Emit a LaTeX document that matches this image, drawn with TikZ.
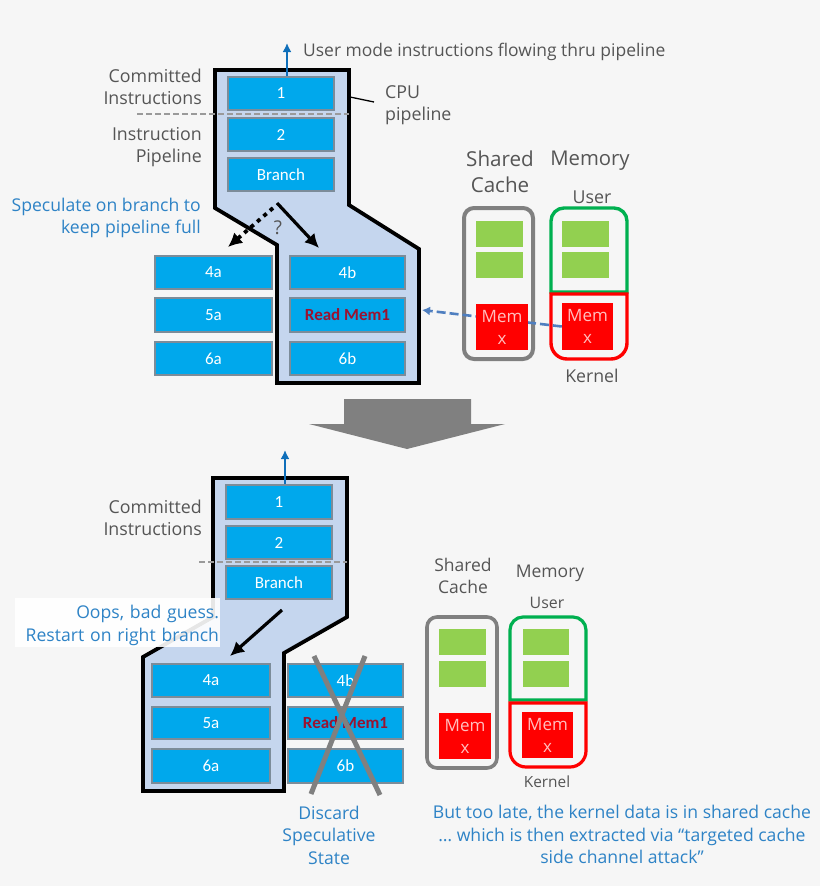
\documentclass[tikz,border=0pt]{standalone}
\usepackage{fontspec}
\setmainfont{Open Sans}
\newfontfamily\boxfont{Carlito}
\usetikzlibrary{arrows.meta,calc}
\definecolor{pagegray}{HTML}{F6F6F6}
\definecolor{pipeblue}{HTML}{C5D6EE}
\definecolor{stageblue}{HTML}{00A8EC}
\definecolor{stageedge}{HTML}{7C8C99}
\definecolor{talkblue}{HTML}{2E83C6}
\definecolor{textgray}{HTML}{555555}
\definecolor{flowblue}{HTML}{0F6FBA}
\definecolor{hitblue}{HTML}{4F7FC0}
\definecolor{memgreen}{HTML}{92D050}
\definecolor{userring}{HTML}{00B050}
\definecolor{wrongred}{HTML}{9B1230}
\definecolor{crossgray}{HTML}{808080}
\definecolor{splitgray}{HTML}{9A9A9A}
\tikzset{
	stage/.style={draw=stageedge, line width=1.2pt, fill=stageblue, text=white, inner sep=0pt,
		font=\boxfont\fontsize{17}{18}\selectfont},
	pipeline/.style={line width=3.8pt, draw=black, fill=pipeblue, line join=miter},
	graytext/.style={text=textgray, inner sep=0pt, align=right, font=\fontsize{17.8}{22}\selectfont},
	bluetext/.style={text=talkblue, inner sep=0pt, font=\fontsize{17.6}{22.4}\selectfont},
	greenblock/.style={fill=memgreen, inner sep=0pt},
	redblock/.style={fill=red, text=white!75!red, inner sep=0pt, align=center, font=\fontsize{17}{22}\selectfont},
	wide/.style={minimum width=#1pt},
	high/.style={minimum height=#1pt}
}
\begin{document}
\begin{tikzpicture}[x=1pt, y=-1pt]
	\fill [pagegray] (0, 0) rectangle (820, 886);

	\draw [pipeline] (215, 70) -- (349, 70) -- (349, 205) -- (419, 249) -- (419, 383) -- (277, 383) -- (277, 245) -- (215, 208) -- cycle;
	\node [stage, wide=106, high=33] (one) at (281, 93.5) {1};
	\node [stage, wide=106, high=33] (two) at (281, 134.5) {2};
	\node [stage, wide=106, high=33] (branch) at (281, 174.5) {Branch};
	\node [stage, wide=117, high=33] (foura) at (213.5, 272.5) {4a};
	\node [stage, wide=117, high=34] (fivea) at (213.5, 315) {5a};
	\node [stage, wide=117, high=33] (sixa) at (213.5, 358.5) {6a};
	\node [stage, wide=115, high=33] (fourb) at (347.5, 272.5) {4b};
	\node [stage, wide=115, high=34, text=wrongred] (readmem) at (347.5, 315) {\textbf{Read Mem1}};
	\node [stage, wide=115, high=33] (sixb) at (347.5, 358.5) {6b};

	\coordinate (flowtop) at (287, 43);
	\draw [flowblue, line width=2.4pt, -{Latex[length=9pt, width=9pt]}] (one.north -| flowtop) -- (flowtop);
	\node [graytext, anchor=west, font=\fontsize{17.45}{22}\selectfont] (flowtext) at (303, 52) {User mode instructions flowing thru pipeline};
	\node [graytext, anchor=east] (committed) at (202, 87) {Committed\\Instructions};
	\node [graytext, anchor=east] (instrpipe) at (202, 147) {Instruction\\Pipeline};
	\coordinate (splitl) at (137, 114);
	\coordinate (splitr) at (349, 114);
	\draw [splitgray, line width=1.3pt, dash pattern=on 6pt off 3pt] (splitl) -- (splitr);
	\coordinate (cpuedge) at (350, 97);
	\coordinate (cpuend) at (374, 102);
	\draw [black, line width=1.3pt] (cpuedge) -- (cpuend);
	\node [graytext, anchor=west, align=left] (cputext) at (385, 105) {CPU\\pipeline};
	\node [bluetext, anchor=east, align=right] (speculate) at (201, 218) {Speculate on branch to\\keep pipeline full};

	\coordinate (guessfrom) at (273, 208);
	\coordinate (guessa) at (228, 247);
	\coordinate (takefrom) at (277, 203);
	\coordinate (takeb) at (319, 248);
	\draw [black, line width=3.8pt, dash pattern=on 4pt off 4.5pt, -{Latex[length=14pt, width=14pt]}] (guessfrom) -- (guessa);
	\draw [black, line width=3.2pt, -{Latex[length=14pt, width=14pt]}] (takefrom) -- (takeb);
	\node [text=textgray, inner sep=0pt, font=\fontsize{19}{20}\selectfont] (qmark) at (278, 228) {?};

	\node [graytext, align=center, anchor=center, font=\fontsize{20.6}{26}\selectfont] (sharedtop) at (500, 171.5) {Shared\\Cache};
	\node [graytext, anchor=center, font=\fontsize{20.3}{22}\selectfont] (memorytop) at (590, 161) {Memory};
	\node [graytext, anchor=center, font=\fontsize{17.8}{20}\selectfont] (usertop) at (592, 197) {User};
	\node [graytext, anchor=center, font=\fontsize{17.7}{20}\selectfont] (kerneltop) at (592, 376) {Kernel};
	\draw [crossgray, line width=4pt, rounded corners=10pt] (464, 208) rectangle (533, 359);
	\draw [userring, line width=3.4pt] (551, 292) [rounded corners=13pt] -- (551, 208) -- (627, 208) [sharp corners] -- (627, 292) -- cycle;
	\draw [red, line width=3.4pt] (551, 294) [rounded corners=16pt] -- (551, 359) -- (627, 359) [sharp corners] -- (627, 294) -- cycle;
	\node [greenblock, wide=47, high=26] (cachegreena) at (499.5, 234) {};
	\node [greenblock, wide=47, high=26] (cachegreenb) at (499.5, 265) {};
	\node [greenblock, wide=47, high=26] (usergreena) at (585.5, 234) {};
	\node [greenblock, wide=47, high=26] (usergreenb) at (585.5, 265) {};
	\node [redblock, wide=51, high=47] (kernelmem) at (587.5, 326.5) {Mem\\x};
	\coordinate (hitend) at (422, 310);
	\draw [hitblue, line width=2.6pt, dash pattern=on 9pt off 4pt, -{Latex[length=8pt, width=9pt]}] (kernelmem.west) -- (hitend);
	\node [redblock, wide=52, high=46] (cachemem) at (502, 327) {Mem\\x};

	\fill [crossgray] (344, 399) -- (471, 399) -- (471, 424) -- (505, 424) -- (407, 449) -- (309, 424) -- (344, 424) -- cycle;

	\draw [pipeline] (213, 478) -- (347, 478) -- (347, 617) -- (284, 653) -- (284, 791) -- (143, 791) -- (143, 657) -- (213, 617) -- cycle;
	\node [stage, wide=106, high=34] (onelow) at (279, 502) {1};
	\node [stage, wide=106, high=33] (twolow) at (279, 542.5) {2};
	\node [stage, wide=106, high=33] (branchlow) at (279, 582.5) {Branch};
	\node [stage, wide=118, high=33] (fouralow) at (211, 680.5) {4a};
	\node [stage, wide=118, high=32] (fivealow) at (211, 723) {5a};
	\node [stage, wide=118, high=34] (sixalow) at (211, 766) {6a};
	\node [stage, wide=115, high=33] (fourblow) at (345.5, 680.5) {4b};
	\node [stage, wide=115, high=32, text=wrongred] (readmemlow) at (345.5, 723) {\textbf{Read Mem1}};
	\node [stage, wide=115, high=34] (sixblow) at (345.5, 766) {6b};

	\coordinate (flowlow) at (285, 450);
	\draw [flowblue, line width=2.4pt, -{Latex[length=9pt, width=9pt]}] (onelow.north -| flowlow) -- (flowlow);
	\node [graytext, anchor=east] (committedlow) at (202, 518) {Committed\\Instructions};
	\coordinate (splitllow) at (199, 562);
	\coordinate (splitrlow) at (347, 562);
	\draw [splitgray, line width=1.3pt, dash pattern=on 6pt off 3pt] (splitllow) -- (splitrlow);
	\node [bluetext, fill=white, fill opacity=0.9, text opacity=1, align=right, text width=203pt, minimum height=49pt, inner xsep=1pt] (oops) at (117.5, 622.5) {\rule{0pt}{19pt}Oops, bad guess.\\Restart on right branch};
	\coordinate (backfrom) at (282, 610);
	\coordinate (backa) at (230, 656);
	\draw [black, line width=3.2pt, -{Latex[length=14pt, width=14pt]}] (backfrom) -- (backa);

	\coordinate (crossaa) at (314, 656);
	\coordinate (crossab) at (380, 795);
	\coordinate (crossba) at (365, 656);
	\coordinate (crossbb) at (311, 794);
	\draw [crossgray, line width=5pt] (crossaa) -- (crossab);
	\draw [crossgray, line width=5pt] (crossba) -- (crossbb);
	\node [bluetext, align=center] (discard) at (329, 835) {Discard\\Speculative\\State};

	\node [graytext, align=center, anchor=center, font=\fontsize{17.5}{22}\selectfont] (sharedlow) at (463, 576) {Shared\\Cache};
	\node [graytext, anchor=center, font=\fontsize{17.5}{20}\selectfont] (memorylow) at (550, 573) {Memory};
	\node [graytext, anchor=center, font=\fontsize{15.9}{18}\selectfont] (userlow) at (547, 603) {User};
	\node [graytext, anchor=center, font=\fontsize{15.4}{18}\selectfont] (kernellow) at (547, 782) {Kernel};
	\draw [crossgray, line width=3.6pt, rounded corners=10pt] (427, 617) rectangle (497, 768);
	\draw [userring, line width=3.2pt] (510, 700) [rounded corners=13pt] -- (510, 617) -- (586, 617) [sharp corners] -- (586, 700) -- cycle;
	\draw [red, line width=3.2pt] (510, 703) [rounded corners=16pt] -- (510, 767) -- (586, 767) [sharp corners] -- (586, 703) -- cycle;
	\node [greenblock, wide=47, high=26] (cachegreenc) at (462.5, 642) {};
	\node [greenblock, wide=47, high=26] (cachegreend) at (462.5, 674) {};
	\node [greenblock, wide=46, high=26] (usergreenc) at (546, 642) {};
	\node [greenblock, wide=46, high=26] (usergreend) at (546, 674) {};
	\node [redblock, wide=52, high=46] (cachememlow) at (465, 736) {Mem\\x};
	\node [redblock, wide=51, high=46] (kernelmemlow) at (547.5, 735) {Mem\\x};
	\node [bluetext, align=center] (toolate) at (622, 834.5) {But too late, the kernel data is in shared cache\\\dots\ which is then extracted via “targeted cache\\side channel attack”};
\end{tikzpicture}
\end{document}
